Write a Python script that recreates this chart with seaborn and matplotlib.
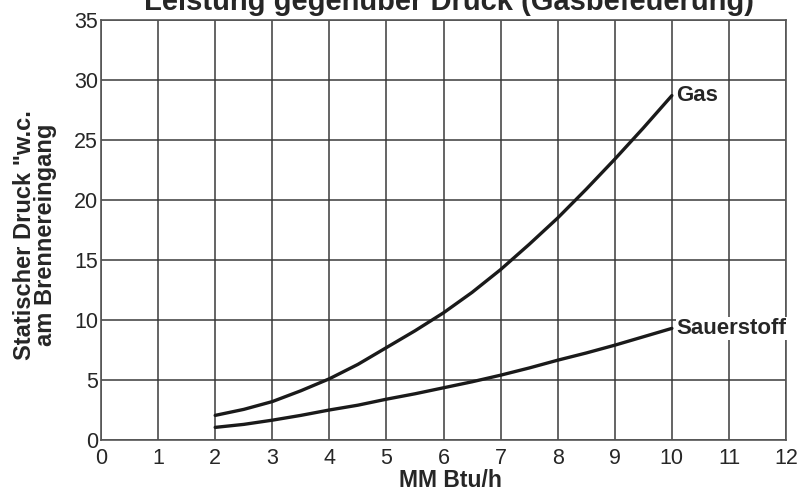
import seaborn as sns
import matplotlib.pyplot as plt
import pandas as pd

# values (half-step readings)
leistung = [2, 2.5, 3, 3.5, 4, 4.5, 5, 5.5, 6, 6.5, 7, 7.5, 8, 8.5, 9, 9.5, 10]
gas = [2.05, 2.55, 3.2, 4.1, 5.1, 6.3, 7.7, 9.1, 10.6, 12.3, 14.2, 16.3, 18.5, 20.9, 23.4, 26.0, 28.7]
sauerstoff = [1.05, 1.3, 1.65, 2.05, 2.5, 2.9, 3.4, 3.85, 4.35, 4.85, 5.4, 6.0, 6.65, 7.25, 7.9, 8.6, 9.3]
x_ticks = list(range(0, 13))
y_ticks = list(range(0, 36, 5))

df = pd.DataFrame({
    "MM Btu/h": leistung * 2,
    "Druck": gas + sauerstoff,
    "Medium": ["Gas"] * len(leistung) + ["Sauerstoff"] * len(leistung),
})

sns.set_style("white")
plt.rcParams["font.family"] = ["Liberation Sans", "DejaVu Sans"]

fig = plt.figure(figsize=(7.98, 4.91), dpi=100)
ax = fig.add_axes([0.1266, 0.1039, 0.8584, 0.8554])

sns.lineplot(data=df, x="MM Btu/h", y="Druck", units="Medium", estimator=None,
             color="#1a1a1a", linewidth=2.4, ax=ax, legend=False)

ax.set_xlim(0, 12)
ax.set_ylim(0, 35)
ax.set_xticks(x_ticks)
ax.set_yticks(y_ticks)
ax.set_xticklabels([str(t) for t in x_ticks], fontsize=15.5)
ax.set_yticklabels([str(t) for t in y_ticks], fontsize=15.5)
ax.tick_params(axis="x", length=0, pad=6)
ax.tick_params(axis="y", length=0, pad=2)
ax.grid(True, color="#3a3a3a", linewidth=1.1)
for s in ax.spines.values():
    s.set_color("#555555")
    s.set_linewidth(1.2)

ax.set_xlabel("")
ax.set_ylabel("")

# curve labels at the right end
ax.text(10.08, gas[-1], "Gas", fontsize=16, fontweight="bold", va="center", ha="left")
ax.text(10.08, sauerstoff[-1], "Sauerstoff", fontsize=16, fontweight="bold",
        va="center", ha="left", bbox=dict(facecolor="white", edgecolor="none", pad=0.5))

fig.text(0.564, 0.022, "MM Btu/h", fontsize=16.5, fontweight="bold", ha="center", va="center")
fig.text(0.044, 0.521, 'Statischer Druck "w.c.\nam Brennereingang', fontsize=17,
         fontweight="bold", ha="center", va="center", rotation=90, linespacing=0.9)
fig.text(0.563, 1 - 9.5 / 491, "Leistung gegenüber Druck (Gasbefeuerung)", fontsize=21,
         fontweight="bold", ha="center", va="baseline")

fig.savefig("out.png", dpi=100)
plt.close(fig)
